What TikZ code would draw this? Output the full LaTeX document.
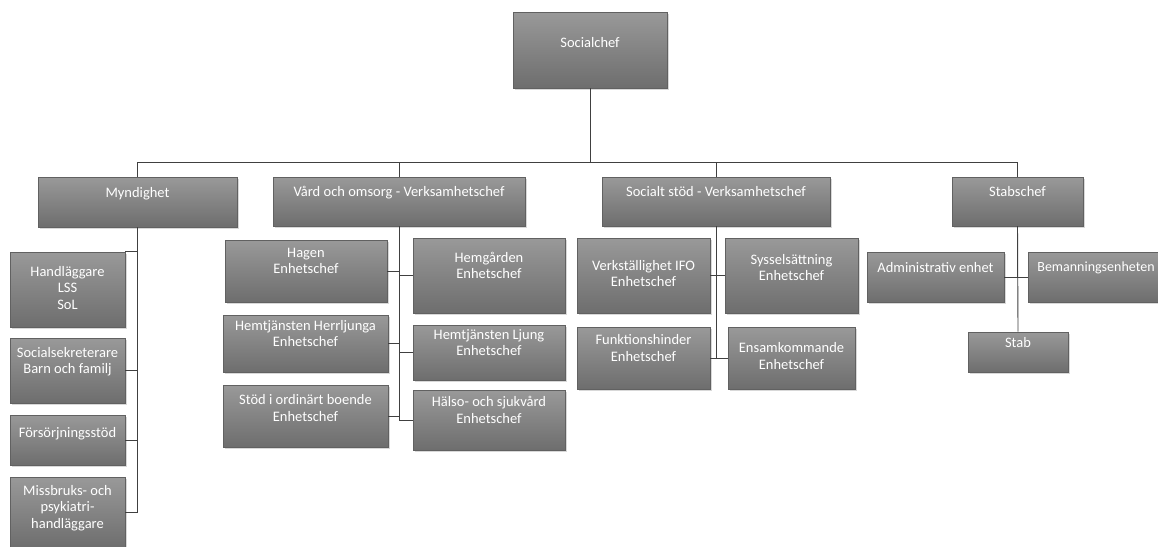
\documentclass[tikz,border=0pt]{standalone}
\usepackage{fontspec}
\setmainfont{Carlito}
\usetikzlibrary{shadows}

\begin{document}
\begin{tikzpicture}[x=1pt,y=-1pt]

	\useasboundingbox[fill=white] (0,0) rectangle (1158,546);

	\tikzset{enhet/.style={draw=black!62,line width=0.6pt,top color=black!40,bottom color=black!57,
		drop shadow={shadow xshift=1.5pt,shadow yshift=-1.5pt,opacity=0.3},
		text=white,align=center,inner sep=2pt,text depth=20pt,
		font=\fontsize{14.5}{16.5}\selectfont}}
	\tikzset{linje/.style={draw=black!75,line width=0.9pt}}

	% top
	\node[enhet,minimum width=154,minimum height=76,text depth=16pt] (chef) at (590,50) {Socialchef};

	\node[enhet,minimum width=199,minimum height=50] (mynd) at (137.5,202) {Myndighet};
	\node[enhet,minimum width=252,minimum height=49] (vard) at (399,201.5) {Vård och omsorg - Verksamhetschef};
	\node[enhet,minimum width=228,minimum height=49] (soc) at (716,201.5) {Socialt stöd - Verksamhetschef};
	\node[enhet,minimum width=131,minimum height=49] (stab) at (1017.5,201.5) {Stabschef};

	\path (chef.south) ++(0,74) coordinate (buss);
	\draw[linje] (chef.south) -- (buss);
	\foreach \n in {mynd,vard,soc,stab}
		\draw[linje] (buss) -| (\n.north);

	% Myndighet
	\node[enhet,minimum width=115,minimum height=75,text depth=4pt] (hand) at (67.5,289.5) {Handläggare\\LSS\\SoL};
	\node[enhet,minimum width=115,minimum height=65] (sekr) at (67.5,370.5) {Socialsekreterare\\Barn och familj};
	\node[enhet,minimum width=115,minimum height=50,text depth=16pt] (fors) at (67.5,440) {Försörjningsstöd};
	\node[enhet,minimum width=115,minimum height=71,text depth=12pt] (miss) at (67.5,512.5) {Missbruks- och\\psykiatri-\\handläggare};

	\draw[linje] (hand.north east) -| (mynd.south);
	\foreach \n in {sekr,fors,miss}
		\draw[linje] (\n.east) -| (mynd.south);

	% Vard och omsorg
	\node[enhet,minimum width=162,minimum height=62] (hagen) at (306,271) {Hagen\\Enhetschef};
	\node[enhet,minimum width=165,minimum height=57] (herr) at (305.5,343.5) {Hemtjänsten Herrljunga\\Enhetschef};
	\node[enhet,minimum width=165,minimum height=62,text depth=16pt] (stod) at (305.5,416) {Stöd i ordinärt boende\\Enhetschef};
	\node[enhet,minimum width=152,minimum height=75] (hemg) at (489,275.5) {Hemgården\\Enhetschef};
	\node[enhet,minimum width=152,minimum height=55] (ljung) at (489,352.5) {Hemtjänsten Ljung\\Enhetschef};
	\node[enhet,minimum width=152,minimum height=60] (halso) at (489,420) {Hälso- och sjukvård\\Enhetschef};

	\foreach \n in {hagen,herr,stod}
		\draw[linje] (\n.east) -| (vard.south);
	\foreach \n in {hemg,ljung,halso}
		\draw[linje] (\n.west) -| (vard.south);

	% Socialt stod
	\node[enhet,minimum width=133,minimum height=75,text depth=4pt] (verk) at (643.5,275.5) {Verkställighet IFO\\Enhetschef};
	\node[enhet,minimum width=133,minimum height=62] (funk) at (643.5,358) {Funktionshinder\\Enhetschef};
	\node[enhet,minimum width=133,minimum height=75,text depth=16pt] (syss) at (791.5,275.5) {Sysselsättning\\Enhetschef};
	\node[enhet,minimum width=127,minimum height=62,text depth=4pt] (ensam) at (791.5,358) {Ensamkommande\\Enhetschef};

	\foreach \n in {verk,funk}
		\draw[linje] (\n.east) -| (soc.south);
	\foreach \n in {syss,ensam}
		\draw[linje] (\n.west) -| (soc.south);

	% Stab
	\node[enhet,minimum width=137,minimum height=50] (admin) at (935.5,277) {Administrativ enhet};
	\node[enhet,minimum width=136,minimum height=50,font=\fontsize{14}{16.5}\selectfont] (beman) at (1096,277) {Bemanningsenheten};
	\node[enhet,minimum width=100,minimum height=40] (stabb) at (1018,352) {Stab};

	\draw[linje] (stab.south) -- (stabb.north);
	\draw[linje] (admin.east) -| (stab.south);
	\draw[linje] (beman.west) -| (stab.south);

\end{tikzpicture}
\end{document}
